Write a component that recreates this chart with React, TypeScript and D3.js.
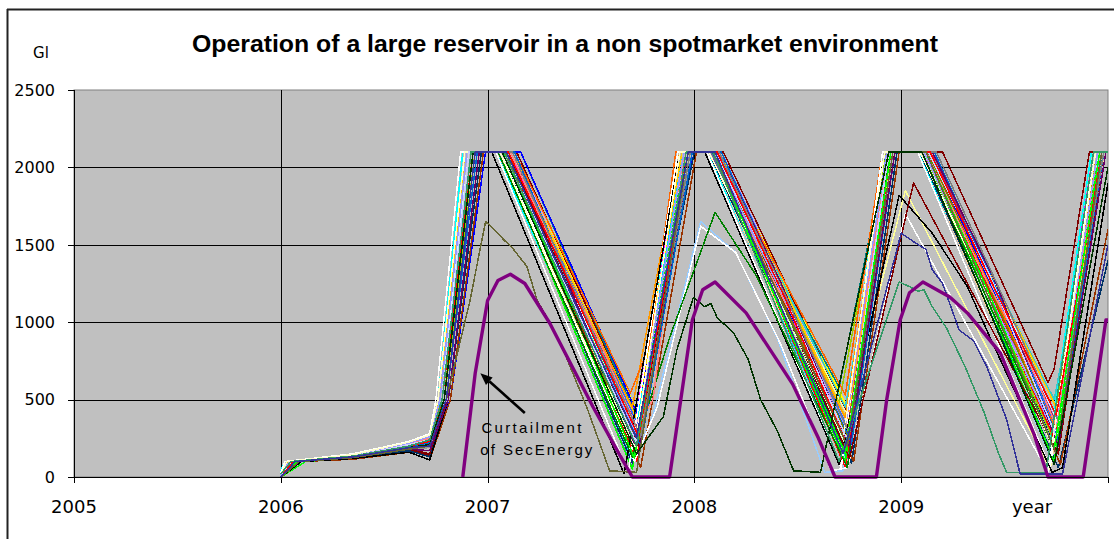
import React from "react";
import * as d3 from "d3";

const chartTitle = "Operation of a large reservoir in a non spotmarket environment";
const yAxisLabel = "Gl";
const xAxisLabel = "year";
const yTickValues = [0, 500, 1000, 1500, 2000, 2500];
const xTickValues = [2005, 2006, 2007, 2008, 2009, 2010];
const xTickLabels = ["2005", "2006", "2007", "2008", "2009", ""];
const annotationLines = ["Curtailment", "of SecEnergy"];

// Each series: flat list of [year, Gl, year, Gl, ...]
const bundleColors = [
  "#000080", "#FF00FF", "#FFFF00", "#00FFFF", "#800000", "#008080", "#0000FF", "#00CCFF",
  "#CCFFFF", "#CCFFCC", "#FFFF99", "#99CCFF", "#FF99CC", "#CC99FF", "#FFCC99", "#3366FF",
  "#33CCCC", "#99CC00", "#FFCC00", "#FF9900", "#FF6600", "#666699", "#969696", "#003366",
  "#993300", "#993366", "#FF0000", "#00FF00", "#FFFFFF", "#FFFFFF", "#000000", "#008000",
  "#800000", "#808000", "#FF8080", "#0066CC", "#9999FF", "#660066", "#FFFFCC", "#808080",
  "#CCCCFF", "#FF0000", "#00FF00",
];

const bundleSeries: number[][] = [
  [2006.00,0, 2006.05,100, 2006.35,130, 2006.62,190, 2006.72,220, 2006.78,500, 2006.92,2100, 2007.08,2100, 2007.72,180, 2007.96,2100, 2008.10,2100, 2008.74,250, 2008.95,2100, 2009.12,2100, 2009.74,200, 2009.96,2100, 2010,2100],
  [2006.00,20, 2006.03,100, 2006.35,140, 2006.62,210, 2006.72,260, 2006.76,500, 2006.88,2100, 2007.10,2100, 2007.72,400, 2007.93,2100, 2008.08,2100, 2008.73,300, 2008.92,2100, 2009.10,2100, 2009.73,350, 2009.93,2100, 2010,2100],
  [2006.00,0, 2006.08,100, 2006.35,130, 2006.62,200, 2006.72,240, 2006.79,500, 2006.93,2100, 2007.12,2100, 2007.74,380, 2007.97,2100, 2008.12,2100, 2008.75,420, 2008.96,2100, 2009.14,2100, 2009.75,450, 2009.97,2100, 2010,2100],
  [2006.00,40, 2006.02,100, 2006.35,150, 2006.62,230, 2006.72,270, 2006.76,500, 2006.88,2100, 2007.04,2100, 2007.70,150, 2007.92,2100, 2008.06,2100, 2008.72,200, 2008.91,2100, 2009.08,2100, 2009.72,250, 2009.92,2100, 2010,2100],
  [2006.00,0, 2006.10,100, 2006.35,125, 2006.62,170, 2006.72,140, 2006.80,500, 2006.95,2100, 2007.14,2100, 2007.75,300, 2007.98,2100, 2008.14,2100, 2008.76,350, 2008.97,2100, 2009.20,2100, 2009.71,610, 2009.74,700, 2009.91,2100, 2010,2100],
  [2006.00,20, 2006.06,100, 2006.35,140, 2006.62,220, 2006.72,260, 2006.79,500, 2006.94,2100, 2007.16,2100, 2007.74,330, 2007.99,2100, 2008.08,2100, 2008.70,580, 2008.93,2100, 2009.12,2100, 2009.74,380, 2009.98,2100, 2010,2100],
  [2006.00,0, 2006.09,100, 2006.35,130, 2006.62,190, 2006.72,200, 2006.82,500, 2006.99,2100, 2007.16,2100, 2007.72,420, 2008.00,2100, 2008.12,2100, 2008.75,150, 2008.97,2100, 2009.14,2100, 2009.75,300, 2009.96,2100, 2010,2100],
  [2006.00,0, 2006.04,100, 2006.35,135, 2006.62,200, 2006.72,240, 2006.77,500, 2006.90,2100, 2007.06,2100, 2007.70,100, 2007.94,2100, 2008.08,2100, 2008.72,100, 2008.93,2100, 2009.10,2100, 2009.73,150, 2009.95,2100, 2010,2100],
  [2006.00,30, 2006.03,100, 2006.35,140, 2006.62,220, 2006.72,260, 2006.77,500, 2006.91,2100, 2007.10,2100, 2007.73,250, 2007.97,2100, 2008.12,2100, 2008.74,300, 2008.95,2100, 2009.16,2100, 2009.74,400, 2009.96,2100, 2010,2100],
  [2006.00,0, 2006.07,100, 2006.35,130, 2006.62,210, 2006.72,250, 2006.78,500, 2006.92,2100, 2007.07,2100, 2007.71,200, 2007.95,2100, 2008.09,2100, 2008.73,200, 2008.94,2100, 2009.11,2100, 2009.72,150, 2009.94,2100, 2010,2100],
  [2006.00,0, 2006.05,100, 2006.35,130, 2006.62,200, 2006.72,240, 2006.79,500, 2006.93,2100, 2007.09,2100, 2007.72,150, 2007.96,2100, 2008.10,2100, 2008.74,400, 2009.02,1850, 2009.72,50, 2009.99,2100, 2010,2100],
  [2006.00,0, 2006.06,100, 2006.35,140, 2006.62,210, 2006.72,250, 2006.78,500, 2006.92,2100, 2007.06,2100, 2007.70,80, 2007.80,400, 2008.03,1650, 2008.20,1450, 2008.40,900, 2008.63,30, 2008.72,40, 2008.92,2100, 2009.10,2100, 2009.73,100, 2009.95,2100, 2010,2100],
  [2006.00,0, 2006.06,100, 2006.35,130, 2006.62,220, 2006.72,270, 2006.77,500, 2006.90,2100, 2007.11,2100, 2007.73,350, 2007.95,2100, 2008.11,2100, 2008.74,280, 2008.94,2100, 2009.13,2100, 2009.75,280, 2009.95,2100, 2010,2100],
  [2006.00,20, 2006.08,100, 2006.35,135, 2006.62,210, 2006.72,250, 2006.80,500, 2006.95,2100, 2007.13,2100, 2007.74,280, 2007.98,2100, 2008.13,2100, 2008.75,330, 2008.96,2100, 2009.15,2100, 2009.76,330, 2009.99,2100, 2010,2100],
  [2006.00,0, 2006.04,100, 2006.35,135, 2006.62,200, 2006.72,230, 2006.78,500, 2006.91,2100, 2007.05,2100, 2007.71,120, 2007.95,2100, 2008.07,2100, 2008.72,150, 2008.93,2100, 2009.09,2100, 2009.73,120, 2009.94,2100, 2010,2100],
  [2006.00,0, 2006.07,100, 2006.35,130, 2006.62,190, 2006.72,220, 2006.80,500, 2006.94,2100, 2007.12,2100, 2007.74,300, 2007.98,2100, 2008.13,2100, 2008.76,260, 2008.97,2100, 2009.16,2100, 2009.76,280, 2009.98,2100, 2010,2100],
  [2006.00,30, 2006.05,100, 2006.35,140, 2006.62,210, 2006.72,250, 2006.78,500, 2006.92,2100, 2007.10,2100, 2007.73,220, 2007.96,2100, 2008.11,2100, 2008.73,450, 2008.94,2100, 2009.14,2100, 2009.74,500, 2009.97,2100, 2010,2100],
  [2006.00,0, 2006.09,100, 2006.35,130, 2006.62,200, 2006.72,230, 2006.79,500, 2006.94,2100, 2007.09,2100, 2007.72,260, 2007.97,2100, 2008.10,2100, 2008.70,480, 2008.93,2100, 2009.11,2100, 2009.73,260, 2009.95,2100, 2010,2100],
  [2006.00,20, 2006.04,100, 2006.35,140, 2006.62,230, 2006.72,280, 2006.77,500, 2006.89,2100, 2007.12,2100, 2007.72,380, 2007.94,2100, 2008.12,2100, 2008.74,360, 2008.95,2100, 2009.15,2100, 2009.76,420, 2009.97,2100, 2010,2100],
  [2006.00,0, 2006.06,100, 2006.35,130, 2006.62,210, 2006.72,250, 2006.78,500, 2006.91,2100, 2007.09,2100, 2007.70,450, 2007.93,2100, 2008.09,2100, 2008.73,380, 2008.92,2100, 2009.12,2100, 2009.74,330, 2009.96,2100, 2010,2100],
  [2006.00,0, 2006.05,100, 2006.35,140, 2006.62,220, 2006.72,260, 2006.77,500, 2006.90,2100, 2007.13,2100, 2007.69,540, 2007.78,840, 2007.91,2100, 2008.10,2100, 2008.73,530, 2008.91,2100, 2009.13,2100, 2009.75,300, 2009.94,2100, 2010,2100],
  [2006.00,0, 2006.08,100, 2006.35,130, 2006.62,190, 2006.72,200, 2006.80,500, 2006.95,2100, 2007.06,2100, 2007.70,60, 2007.97,2100, 2008.08,2100, 2008.74,120, 2008.96,2100, 2009.10,2100, 2009.74,90, 2009.97,2100, 2010,2100],
  [2006.00,0, 2006.06,100, 2006.35,125, 2006.62,180, 2006.72,190, 2006.81,500, 2006.96,2100, 2007.08,2100, 2007.71,140, 2007.99,2100, 2008.09,2100, 2008.75,180, 2008.97,2100, 2009.12,2100, 2009.75,160, 2009.99,2100, 2010,2100],
  [2006.00,0, 2006.10,100, 2006.35,120, 2006.62,170, 2006.72,130, 2006.81,500, 2006.97,2100, 2007.07,2100, 2007.70,90, 2008.00,2100, 2008.07,2100, 2008.76,90, 2008.98,2100, 2009.09,2100, 2009.76,60, 2010,1400],
  [2006.00,0, 2006.10,100, 2006.35,115, 2006.62,160, 2006.72,110, 2006.82,500, 2006.98,2100, 2007.10,2100, 2007.74,60, 2008.01,2100, 2008.11,2100, 2008.77,100, 2008.99,2100, 2009.14,2100, 2009.77,80, 2010,1600],
  [2006.00,0, 2006.07,100, 2006.35,130, 2006.62,200, 2006.72,230, 2006.79,500, 2006.93,2100, 2007.11,2100, 2007.73,300, 2007.97,2100, 2008.11,2100, 2008.74,300, 2008.95,2100, 2009.15,2100, 2009.75,350, 2009.96,2100, 2010,2100],
  [2006.00,0, 2006.06,100, 2006.35,130, 2006.62,200, 2006.72,220, 2006.78,500, 2006.92,2100, 2007.09,2100, 2007.72,100, 2007.96,2100, 2008.10,2100, 2008.73,60, 2008.95,2100, 2009.13,2100, 2009.74,250, 2009.96,2100, 2010,2100],
  [2006.00,0, 2006.12,100, 2006.35,125, 2006.62,190, 2006.72,210, 2006.79,500, 2006.93,2100, 2007.06,2100, 2007.70,50, 2007.95,2100, 2008.09,2100, 2008.73,100, 2008.95,2100, 2009.12,2100, 2009.74,100, 2009.95,2100, 2010,2100],
  [2006.00,20, 2006.02,100, 2006.35,150, 2006.62,230, 2006.72,280, 2006.75,500, 2006.87,2100, 2007.04,2100, 2007.68,30, 2007.92,2100, 2008.06,2100, 2008.71,60, 2008.91,2100, 2009.08,2100, 2009.72,60, 2009.93,2100, 2010,2100],
  [2006.00,0, 2006.04,100, 2006.35,140, 2006.62,220, 2006.72,260, 2006.77,500, 2006.90,2100, 2007.07,2100, 2007.71,100, 2007.82,450, 2008.03,1620, 2008.20,1450, 2008.42,850, 2008.66,40, 2008.74,60, 2009.02,1700, 2009.71,30, 2009.94,2100, 2010,2100],
  [2006.00,0, 2006.10,100, 2006.35,120, 2006.62,160, 2006.72,110, 2006.81,500, 2006.96,2100, 2007.02,2100, 2007.66,20, 2007.93,2100, 2008.05,2100, 2008.70,80, 2008.99,1820, 2009.15,1575, 2009.32,1230, 2009.42,930, 2009.73,30, 2009.78,60, 2010,1900],
  [2006.00,0, 2006.08,100, 2006.35,130, 2006.62,200, 2006.72,230, 2006.79,500, 2006.93,2100, 2007.05,2100, 2007.70,130, 2007.88,900, 2008.10,1710, 2008.30,1300, 2008.74,60, 2008.94,2100, 2009.10,2100, 2009.73,200, 2009.95,2100, 2010,2100],
  [2006.00,0, 2006.08,100, 2006.35,125, 2006.62,180, 2006.72,150, 2006.80,500, 2006.95,2100, 2007.10,2100, 2007.73,200, 2007.97,2100, 2008.11,2100, 2008.75,120, 2009.06,1900, 2009.76,150, 2009.98,2100, 2010,2100],
  [2006.00,0, 2006.07,100, 2006.35,130, 2006.62,200, 2006.72,230, 2006.79,500, 2006.92,2100, 2007.09,2100, 2007.30,1400, 2007.50,800, 2007.73,230, 2007.96,2100, 2008.11,2100, 2008.40,1200, 2008.74,270, 2008.95,2100, 2009.13,2100, 2009.45,1150, 2009.74,300, 2009.96,2100, 2010,2100],
  [2006.00,0, 2006.05,100, 2006.35,135, 2006.62,210, 2006.72,250, 2006.77,500, 2006.90,2100, 2007.11,2100, 2007.35,1400, 2007.55,850, 2007.72,320, 2007.80,500, 2007.95,2100, 2008.10,2100, 2008.35,1350, 2008.55,850, 2008.73,320, 2008.94,2100, 2009.12,2100, 2009.40,1300, 2009.60,800, 2009.75,330, 2009.96,2100, 2010,2100],
  [2006.00,0, 2006.08,100, 2006.35,130, 2006.62,200, 2006.72,220, 2006.80,500, 2006.95,2100, 2007.13,2100, 2007.40,1250, 2007.74,200, 2007.99,2100, 2008.13,2100, 2008.45,1150, 2008.76,220, 2008.97,2100, 2009.16,2100, 2009.45,1250, 2009.76,240, 2009.98,2100, 2010,2100],
  [2006.00,10, 2006.04,100, 2006.35,140, 2006.62,220, 2006.72,260, 2006.77,500, 2006.90,2100, 2007.08,2100, 2007.35,1300, 2007.72,280, 2007.95,2100, 2008.09,2100, 2008.40,1250, 2008.73,330, 2008.93,2100, 2009.11,2100, 2009.42,1200, 2009.74,280, 2009.95,2100, 2010,2100],
  [2006.00,0, 2006.09,100, 2006.35,125, 2006.62,180, 2006.72,170, 2006.81,500, 2006.96,2100, 2007.10,2100, 2007.36,1350, 2007.73,150, 2007.98,2100, 2008.12,2100, 2008.42,1250, 2008.75,200, 2008.97,2100, 2009.15,2100, 2009.46,1250, 2009.76,200, 2009.99,2100, 2010,2100],
  [2006.00,20, 2006.03,100, 2006.35,145, 2006.62,225, 2006.72,270, 2006.76,500, 2006.89,2100, 2007.06,2100, 2007.32,1300, 2007.71,180, 2007.93,2100, 2008.07,2100, 2008.38,1250, 2008.72,250, 2008.92,2100, 2009.09,2100, 2009.40,1250, 2009.73,200, 2009.94,2100, 2010,2100],
  [2006.00,0, 2006.07,100, 2006.35,125, 2006.62,190, 2006.72,200, 2006.80,500, 2006.94,2100, 2007.12,2100, 2007.42,1200, 2007.74,260, 2007.98,2100, 2008.12,2100, 2008.43,1200, 2008.75,280, 2008.96,2100, 2009.17,2100, 2009.48,1200, 2009.76,360, 2009.98,2100, 2010,2100],
  [2006.00,0, 2006.05,100, 2006.35,135, 2006.62,210, 2006.72,240, 2006.78,500, 2006.91,2100, 2007.09,2100, 2007.34,1350, 2007.72,220, 2007.96,2100, 2008.10,2100, 2008.39,1300, 2008.74,240, 2008.94,2100, 2009.13,2100, 2009.43,1300, 2009.75,260, 2009.96,2100, 2010,2100],
  [2006.00,0, 2006.06,100, 2006.35,130, 2006.62,200, 2006.72,230, 2006.78,500, 2006.93,2100, 2007.10,2100, 2007.38,1300, 2007.73,260, 2007.97,2100, 2008.11,2100, 2008.44,1150, 2008.74,200, 2008.95,2100, 2009.14,2100, 2009.44,1250, 2009.75,400, 2009.97,2100, 2010,2100],
  [2006.00,0, 2006.08,100, 2006.35,130, 2006.62,190, 2006.72,210, 2006.79,500, 2006.93,2100, 2007.07,2100, 2007.36,1250, 2007.71,120, 2007.96,2100, 2008.09,2100, 2008.40,1150, 2008.73,150, 2008.95,2100, 2009.12,2100, 2009.42,1200, 2009.74,180, 2009.96,2100, 2010,2100],
];

// Series that ran low in one particular year
const lowColors = ["#666633", "#003300", "#339966", "#333399"];
const lowSeries: number[][] = [
  [2006.00,0, 2006.09,100, 2006.35,125, 2006.62,180, 2006.72,200, 2006.80,500, 2006.915,1140, 2006.99,1650, 2007.03,1600, 2007.08,1530, 2007.12,1480, 2007.19,1360, 2007.24,1140, 2007.30,1000, 2007.38,775, 2007.48,450, 2007.59,40, 2007.72,30, 2007.97,2100, 2008.09,2100, 2008.74,200, 2008.96,2100, 2009.12,2100, 2009.75,150, 2009.97,2100, 2010,2100],
  [2006.00,0, 2006.07,100, 2006.35,130, 2006.62,190, 2006.72,210, 2006.79,500, 2006.93,2100, 2007.07,2100, 2007.72,150, 2007.85,390, 2007.915,820, 2007.995,1160, 2008.05,1100, 2008.08,1120, 2008.11,1030, 2008.19,930, 2008.26,760, 2008.32,500, 2008.40,300, 2008.48,40, 2008.61,30, 2008.94,2100, 2009.10,2100, 2009.74,80, 2010,2000],
  [2006.00,20, 2006.05,100, 2006.35,135, 2006.62,200, 2006.72,240, 2006.78,500, 2006.92,2100, 2007.08,2100, 2007.72,200, 2007.96,2100, 2008.09,2100, 2008.70,100, 2008.85,700, 2008.99,1260, 2009.04,1230, 2009.08,1200, 2009.11,1210, 2009.15,1100, 2009.22,960, 2009.31,710, 2009.40,420, 2009.47,155, 2009.51,30, 2009.70,30, 2009.93,2100, 2010,2100],
  [2006.00,0, 2006.07,100, 2006.35,130, 2006.62,190, 2006.72,200, 2006.80,500, 2006.94,2100, 2007.09,2100, 2007.72,250, 2007.97,2100, 2008.10,2100, 2008.72,150, 2009.00,1575, 2009.06,1520, 2009.12,1470, 2009.15,1340, 2009.20,1250, 2009.28,950, 2009.35,880, 2009.415,710, 2009.51,370, 2009.575,20, 2009.78,20, 2010,1500],
];

// The curtailed secondary-energy case (thick purple)
const curtailmentColor = "#800080";
const curtailmentSeries = [
  2006.88,0, 2006.94,670, 2007.00,1140, 2007.05,1270, 2007.11,1310, 2007.18,1250, 2007.30,995, 2007.51,452, 2007.64,140, 2007.70,0,
  2007.88,0, 2007.99,1014, 2008.04,1210, 2008.10,1260, 2008.25,1060, 2008.475,600, 2008.60,250, 2008.68,0,
  2008.88,0, 2008.93,500, 2008.995,1014, 2009.04,1190, 2009.105,1260, 2009.235,1163, 2009.32,1060, 2009.48,800, 2009.64,284, 2009.71,0,
  2009.88,0, 2009.99,1014, 2010,1014,
];

const W = 1114;
const H = 539;

export default function App() {
  const left = 74, right = 1108, top = 90, bottom = 477;
  const x = d3.scaleLinear().domain([2005, 2010]).range([left, right]);
  const y = d3.scaleLinear().domain([0, 2500]).range([bottom, top]);
  const pairs = (a: number[]) =>
    d3.range(0, a.length, 2).map((i) => [a[i], a[i + 1]] as [number, number]);
  const line = d3
    .line<[number, number]>()
    .x((d) => x(d[0]))
    .y((d) => y(d[1]));

  const sans = "'Liberation Sans', Arial, sans-serif";
  const dv = "'DejaVu Sans', sans-serif";

  // annotation anchors in data space
  const tip = [x(2006.965), y(670)];
  const tail = [x(2007.18), y(413)];
  const dx = tip[0] - tail[0], dy = tip[1] - tail[1];
  const len = Math.hypot(dx, dy);
  const ux = dx / len, uy = dy / len;
  const hl = 12, hw = 5;
  const base = [tip[0] - ux * hl, tip[1] - uy * hl];
  const head = [
    [tip[0], tip[1]],
    [base[0] - uy * hw, base[1] + ux * hw],
    [base[0] + uy * hw, base[1] - ux * hw],
  ];

  const crisp = (v: number) => Math.round(v) + 0.5;

  return (
    <svg
      width={W}
      height={H}
      style={{ position: "absolute", left: 0, top: 0, background: "#fff", display: "block" }}
    >
      <defs>
        <clipPath id="plotClip">
          <rect x={left} y={top - 2} width={right - left} height={bottom - top + 4} />
        </clipPath>
      </defs>
      <rect x={0} y={0} width={W} height={H} fill="#fff" />
      <line x1={7} x2={W} y1={9.5} y2={9.5} stroke="#222" strokeWidth={2} />
      <line x1={7.5} x2={7.5} y1={9} y2={H} stroke="#222" strokeWidth={2} />

      <text
        x={565}
        y={52}
        textAnchor="middle"
        fontFamily={sans}
        fontWeight="bold"
        fontSize={23}
        textLength={746}
        lengthAdjust="spacingAndGlyphs"
      >
        {chartTitle}
      </text>

      <rect
        x={left}
        y={top}
        width={right - left}
        height={bottom - top}
        fill="#C0C0C0"
        stroke="#808080"
        strokeWidth={1}
      />

      {yTickValues.filter((v) => v > 0 && v < 2500).map((v) => (
        <line key={"gy" + v} x1={left} x2={right} y1={crisp(y(v))} y2={crisp(y(v))} stroke="#000" strokeWidth={1.2} shapeRendering="crispEdges" />
      ))}
      {xTickValues.filter((v) => v > 2005 && v < 2010).map((v) => (
        <line key={"gx" + v} x1={crisp(x(v))} x2={crisp(x(v))} y1={top} y2={bottom} stroke="#000" strokeWidth={1.2} shapeRendering="crispEdges" />
      ))}

      <g clipPath="url(#plotClip)" fill="none" strokeLinejoin="round">
        {bundleSeries.map((s, i) => (
          <path key={"b" + i} d={line(pairs(s)) || ""} stroke={bundleColors[i]} strokeWidth={1.5} shapeRendering="crispEdges" />
        ))}
        {lowSeries.map((s, i) => (
          <path key={"l" + i} d={line(pairs(s)) || ""} stroke={lowColors[i]} strokeWidth={1.5} shapeRendering="crispEdges" />
        ))}
        <path d={line(pairs(curtailmentSeries)) || ""} stroke={curtailmentColor} strokeWidth={3.4} />
      </g>

      {/* axes */}
      <line x1={crisp(left)} x2={crisp(left)} y1={top} y2={bottom + 6} stroke="#000" strokeWidth={1.5} shapeRendering="crispEdges" />
      <line x1={left - 6} x2={right} y1={crisp(bottom)} y2={crisp(bottom)} stroke="#000" strokeWidth={1.5} shapeRendering="crispEdges" />
      {yTickValues.map((v) => (
        <g key={"ty" + v}>
          <line x1={left - 6} x2={left} y1={crisp(y(v))} y2={crisp(y(v))} stroke="#000" strokeWidth={1} shapeRendering="crispEdges" />
          <text x={55} y={y(v)} dy="0.36em" textAnchor="end" fontFamily={dv} fontSize={16}>
            {String(v)}
          </text>
        </g>
      ))}
      {xTickValues.map((v, i) => (
        <g key={"tx" + v}>
          <line x1={crisp(x(v))} x2={crisp(x(v))} y1={bottom} y2={bottom + 6} stroke="#000" strokeWidth={1} shapeRendering="crispEdges" />
          {xTickLabels[i] ? (
            <text x={x(v)} y={513} textAnchor="middle" fontFamily={dv} fontSize={18}>
              {xTickLabels[i]}
            </text>
          ) : null}
        </g>
      ))}
      <text x={1032} y={513} textAnchor="middle" fontFamily={dv} fontSize={18}>
        {xAxisLabel}
      </text>
      <text x={41} y={58} textAnchor="middle" fontFamily={dv} fontSize={15}>
        {yAxisLabel}
      </text>

      {/* annotation */}
      <line x1={tail[0]} y1={tail[1]} x2={base[0]} y2={base[1]} stroke="#000" strokeWidth={2.6} />
      <polygon points={head.map((p) => p.join(",")).join(" ")} fill="#000" />
      <text x={x(2006.97)} y={y(285)} fontFamily={sans} fontSize={15} textLength={100} lengthAdjust="spacing">
        {annotationLines[0]}
      </text>
      <text x={x(2006.965)} y={y(142)} fontFamily={sans} fontSize={15} textLength={112} lengthAdjust="spacing">
        {annotationLines[1]}
      </text>
    </svg>
  );
}
